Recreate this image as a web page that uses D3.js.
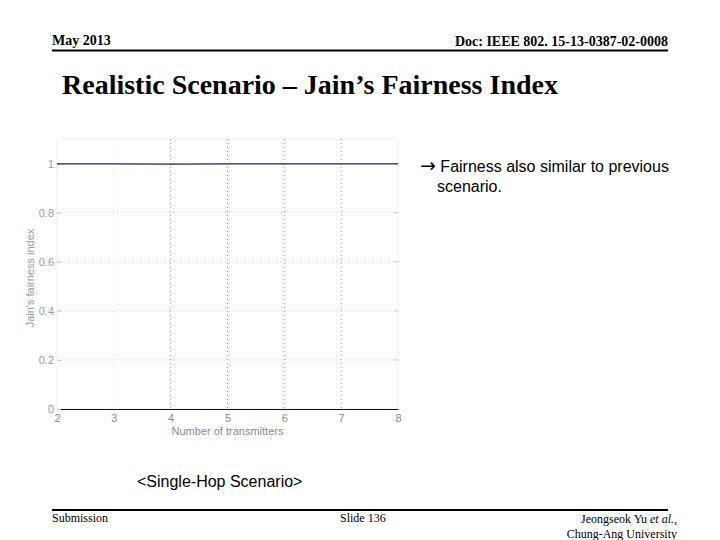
<!DOCTYPE html>
<html>
<head>
<meta charset="utf-8">
<script src="https://cdn.jsdelivr.net/npm/d3@7"></script>
<style>
  body { margin: 0; background: #fff; }
  svg text { font-family: "Liberation Serif", "Times New Roman", serif; }
  svg text.sans, svg .sans text { font-family: "Liberation Sans", Arial, sans-serif; }
</style>
</head>
<body>
<div id="chart"></div>
<script>
// data
const transmitters = [2, 3, 4, 5, 6, 7, 8];
const fairness = [0.999, 0.999, 0.998, 0.999, 0.999, 0.999, 0.999];
const xTicks = [2, 3, 4, 5, 6, 7, 8];
const yTicks = [0, 0.2, 0.4, 0.6, 0.8, 1];
const yTickLabels = ["0", "0.2", "0.4", "0.6", "0.8", "1"];

const W = 720, H = 540;
const plot = {left: 57, right: 398, top: 139, bottom: 409};

let svg = d3.select("#chart")
    .append("svg")
    .attr("width", W)
    .attr("height", H);

// slide header
svg.append("text").attr("x", 52).attr("y", 45)
    .style("font-size", "14px").style("font-weight", "bold")
    .text("May 2013");
svg.append("text").attr("x", 668).attr("y", 46)
    .style("font-size", "14px").style("font-weight", "bold")
    .style("text-anchor", "end")
    .text("Doc: IEEE 802. 15-13-0387-02-0008");
svg.append("line").attr("x1", 52).attr("x2", 668).attr("y1", 50.5).attr("y2", 50.5)
    .attr("stroke", "#000").attr("stroke-width", 2);
svg.append("text").attr("x", 62).attr("y", 94)
    .style("font-size", "28px").style("font-weight", "bold")
    .text("Realistic Scenario \u2013 Jain\u2019s Fairness Index");

// scales
let x = d3.scaleLinear().domain([2, 8]).range([plot.left, plot.right]);
let y = d3.scaleLinear().domain([0, 1.1]).range([plot.bottom, plot.top]);

const faint = "#c8c8c8";
const gridCol = "#9a9a9a";

let g = svg.append("g").attr("class", "sans");

// faint box
g.append("rect")
    .attr("x", plot.left).attr("y", plot.top)
    .attr("width", plot.right - plot.left).attr("height", plot.bottom - plot.top)
    .attr("fill", "none").attr("stroke", "#eeeeee");

// vertical grid
g.selectAll(".vgrid")
    .data(xTicks.filter(d => d > 2 && d < 8))
    .enter().append("line")
    .attr("x1", d => x(d)).attr("x2", d => x(d))
    .attr("y1", plot.top).attr("y2", plot.bottom)
    .attr("stroke", d => d === 3 ? "#eeeeee" : gridCol)
    .attr("stroke-dasharray", "1,3");

// horizontal grid
g.selectAll(".hgrid")
    .data(yTicks.filter(d => d > 0))
    .enter().append("line")
    .attr("x1", plot.left).attr("x2", plot.right)
    .attr("y1", d => y(d)).attr("y2", d => y(d))
    .attr("stroke", faint)
    .attr("stroke-dasharray", "1,3");

// x axis
let xAxis = g.append("g")
    .attr("transform", `translate(0,${plot.bottom})`)
    .call(d3.axisBottom(x).tickValues(xTicks).tickSize(0).tickPadding(5).tickFormat(d3.format("d")));
xAxis.select(".domain").attr("stroke", "#111").attr("stroke-width", 1.2);
xAxis.selectAll("text").attr("fill", "#8a8a8a").style("font-size", "11px");

// y axis
let yAxis = g.append("g")
    .attr("transform", `translate(${plot.left},0)`)
    .call(d3.axisLeft(y).tickValues(yTicks).tickSize(-4).tickPadding(3)
        .tickFormat((d, i) => yTickLabels[i]));
yAxis.select(".domain").remove();
yAxis.selectAll("line").attr("stroke", faint);
yAxis.selectAll("text").attr("fill", "#9a9a9a").style("font-size", "11px");

// right-side tick marks
g.selectAll(".rtick")
    .data(yTicks.filter(d => d > 0))
    .enter().append("line")
    .attr("x1", plot.right - 4).attr("x2", plot.right)
    .attr("y1", d => y(d)).attr("y2", d => y(d))
    .attr("stroke", faint);

// axis labels
g.append("text")
    .attr("x", (plot.left + plot.right) / 2).attr("y", 435)
    .style("text-anchor", "middle").style("font-size", "11px")
    .attr("fill", "#8a8a8a")
    .text("Number of transmitters");
g.append("text")
    .attr("transform", `translate(34,${(plot.top + plot.bottom) / 2 + 4}) rotate(-90)`)
    .style("text-anchor", "middle").style("font-size", "11px")
    .attr("fill", "#9a9a9a")
    .text("Jain's fairness index");

// fairness line
let line = d3.line().x((d, i) => x(transmitters[i])).y(d => y(d));
g.append("path")
    .datum(fairness)
    .attr("d", line)
    .attr("fill", "none")
    .attr("stroke", "#23236b")
    .attr("stroke-width", 1.2);

// side note
let note = svg.append("text").attr("class", "sans").attr("x", 420).attr("y", 172)
    .style("font-size", "16px");
note.append("tspan").style("font-family", "DejaVu Sans").style("font-size", "19px").text("\u2192");
note.append("tspan").text(" Fairness also similar to previous");
svg.append("text").attr("class", "sans").attr("x", 437).attr("y", 192)
    .style("font-size", "16px")
    .text("scenario.");

svg.append("text").attr("class", "sans").attr("x", 137).attr("y", 487)
    .style("font-size", "16px")
    .text("<Single-Hop Scenario>");

// footer
svg.append("line").attr("x1", 52).attr("x2", 668).attr("y1", 510).attr("y2", 510)
    .attr("stroke", "#000").attr("stroke-width", 2);
svg.append("text").attr("x", 52).attr("y", 522).style("font-size", "12px").text("Submission");
svg.append("text").attr("x", 340).attr("y", 522).style("font-size", "12px").text("Slide 136");
let auth = svg.append("text").attr("x", 677).attr("y", 523)
    .style("font-size", "12px").style("text-anchor", "end");
auth.append("tspan").text("Jeongseok Yu ");
auth.append("tspan").style("font-style", "italic").text("et al.");
auth.append("tspan").text(",");
svg.append("text").attr("x", 677).attr("y", 538)
    .style("font-size", "12px").style("text-anchor", "end")
    .text("Chung-Ang University");
</script>
</body>
</html>
